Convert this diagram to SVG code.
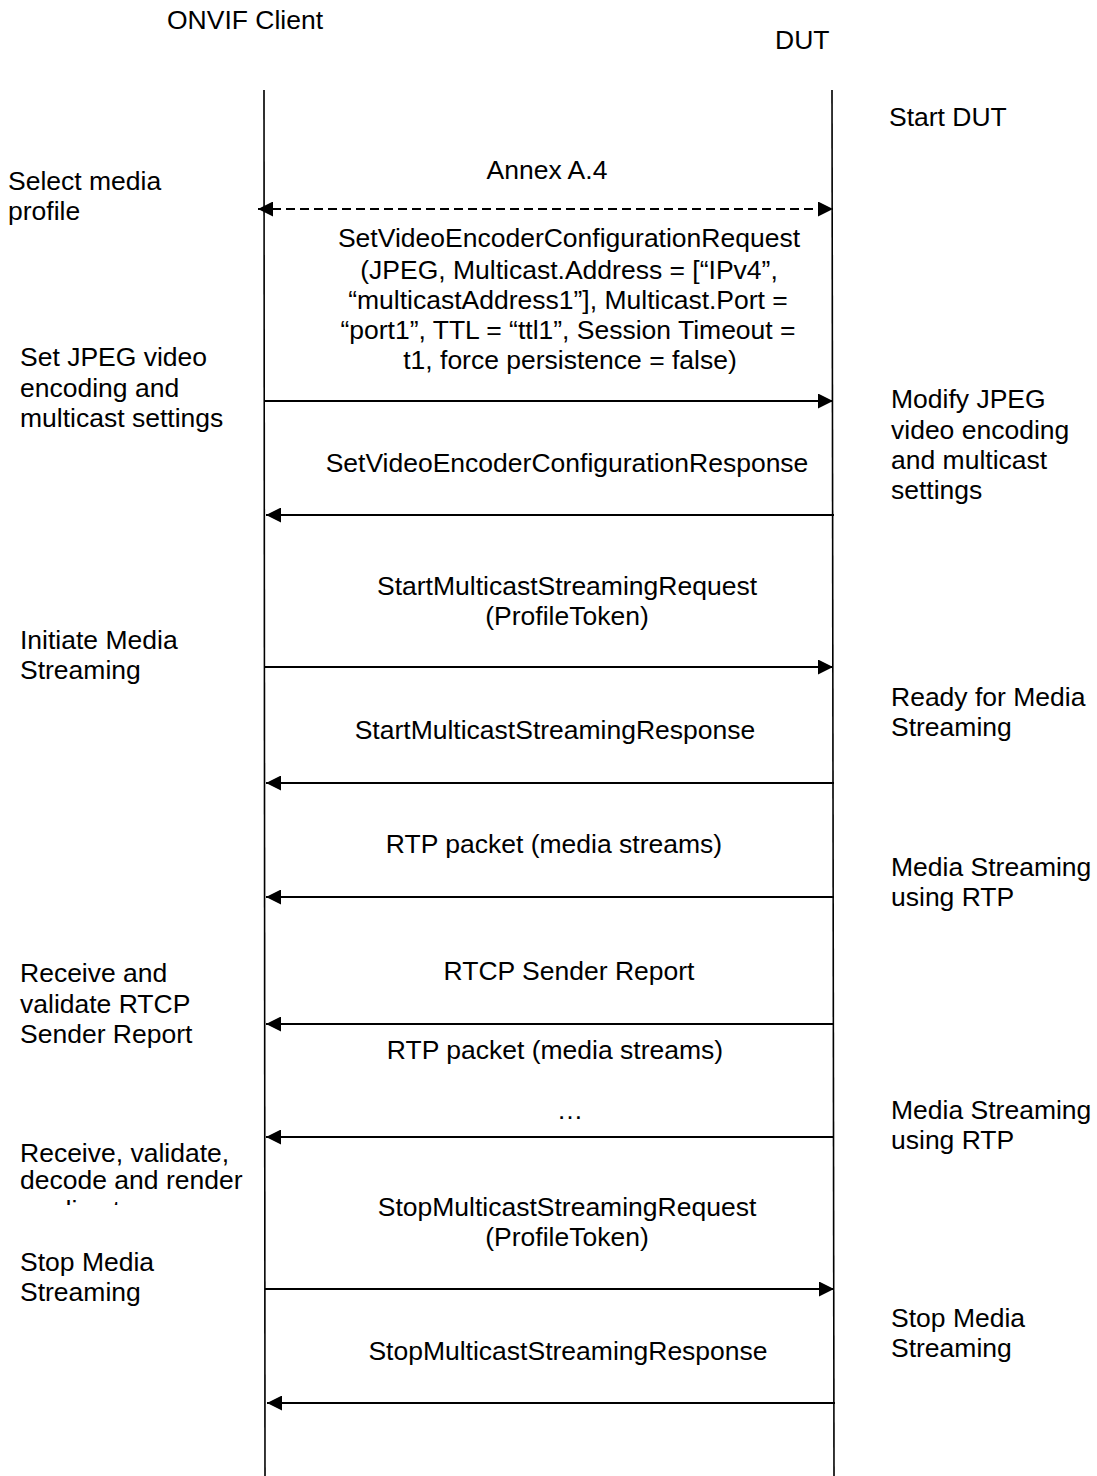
<svg xmlns="http://www.w3.org/2000/svg" width="1097" height="1476" viewBox="0 0 1097 1476">
<style>
text{font-family:"Liberation Sans",Arial,sans-serif;font-size:26.5px;fill:#000}
.c{text-anchor:middle}
.life{stroke:#000;stroke-width:1.6;fill:none}
.msg{stroke:#000;stroke-width:2;fill:none}
.dash{stroke-dasharray:9 5}
</style>
<defs>
<marker id="ah" viewBox="0 0 15 15" refX="15" refY="7.5" markerWidth="15" markerHeight="15" markerUnits="userSpaceOnUse" orient="auto-start-reverse">
<path d="M0,0 L15,7.5 L0,15 Z" fill="#000"/>
</marker>
<clipPath id="clipL"><rect x="0" y="0" width="262" height="1205"/></clipPath>
</defs>
<rect width="1097" height="1476" fill="#fff"/>
<g id="client">
<text x="167" y="29">ONVIF Client</text>
<line class="life" x1="264" y1="90" x2="265" y2="1476"/>
</g>
<g id="dut">
<text x="775" y="49">DUT</text>
<line class="life" x1="832" y1="90" x2="834" y2="1476"/>
</g>
<g id="notes-client">
<text x="8" y="190">Select media</text>
<text x="8" y="220">profile</text>
<text x="20" y="366">Set JPEG video</text>
<text x="20" y="397">encoding and</text>
<text x="20" y="427">multicast settings</text>
<text x="20" y="649">Initiate Media</text>
<text x="20" y="679">Streaming</text>
<text x="20" y="982">Receive and</text>
<text x="20" y="1013">validate RTCP</text>
<text x="20" y="1043">Sender Report</text>
<g clip-path="url(#clipL)">
<text x="20" y="1162">Receive, validate,</text>
<text x="20" y="1189">decode and render</text>
<text x="20" y="1219">media streams</text>
</g>
<text x="20" y="1271">Stop Media</text>
<text x="20" y="1301">Streaming</text>
</g>
<g id="notes-dut">
<text x="889" y="126">Start DUT</text>
<text x="891" y="408">Modify JPEG</text>
<text x="891" y="439">video encoding</text>
<text x="891" y="469">and multicast</text>
<text x="891" y="499">settings</text>
<text x="891" y="706">Ready for Media</text>
<text x="891" y="736">Streaming</text>
<text x="891" y="876">Media Streaming</text>
<text x="891" y="906">using RTP</text>
<text x="891" y="1119">Media Streaming</text>
<text x="891" y="1149">using RTP</text>
<text x="891" y="1327">Stop Media</text>
<text x="891" y="1357">Streaming</text>
</g>
<g id="labels">
<text class="c" x="547" y="179">Annex A.4</text>
<text class="c" x="569" y="247">SetVideoEncoderConfigurationRequest</text>
<text class="c" x="569" y="279">(JPEG, Multicast.Address = [“IPv4”,</text>
<text class="c" x="568" y="309">“multicastAddress1”], Multicast.Port =</text>
<text class="c" x="568" y="339">“port1”, TTL = “ttl1”, Session Timeout =</text>
<text class="c" x="570" y="369">t1, force persistence = false)</text>
<text class="c" x="567" y="472">SetVideoEncoderConfigurationResponse</text>
<text class="c" x="567" y="595">StartMulticastStreamingRequest</text>
<text class="c" x="567" y="625">(ProfileToken)</text>
<text class="c" x="555" y="739">StartMulticastStreamingResponse</text>
<text class="c" x="554" y="853">RTP packet (media streams)</text>
<text class="c" x="569" y="980">RTCP Sender Report</text>
<text class="c" x="555" y="1059">RTP packet (media streams)</text>
<text class="c" x="570" y="1119">…</text>
<text class="c" x="567" y="1216">StopMulticastStreamingRequest</text>
<text class="c" x="567" y="1246">(ProfileToken)</text>
<text class="c" x="568" y="1360">StopMulticastStreamingResponse</text>
</g>
<g id="connectors">
<line class="msg dash" x1="258" y1="209" x2="833" y2="209" marker-start="url(#ah)" marker-end="url(#ah)"/>
<line class="msg" x1="265" y1="401" x2="833" y2="401" marker-end="url(#ah)"/>
<line class="msg" x1="834" y1="515" x2="266" y2="515" marker-end="url(#ah)"/>
<line class="msg" x1="265" y1="667" x2="833" y2="667" marker-end="url(#ah)"/>
<line class="msg" x1="834" y1="783" x2="266" y2="783" marker-end="url(#ah)"/>
<line class="msg" x1="834" y1="897" x2="266" y2="897" marker-end="url(#ah)"/>
<line class="msg" x1="834" y1="1024" x2="266" y2="1024" marker-end="url(#ah)"/>
<line class="msg" x1="834" y1="1137" x2="266" y2="1137" marker-end="url(#ah)"/>
<line class="msg" x1="265" y1="1289" x2="834" y2="1289" marker-end="url(#ah)"/>
<line class="msg" x1="835" y1="1403" x2="267" y2="1403" marker-end="url(#ah)"/>
</g>
</svg>
